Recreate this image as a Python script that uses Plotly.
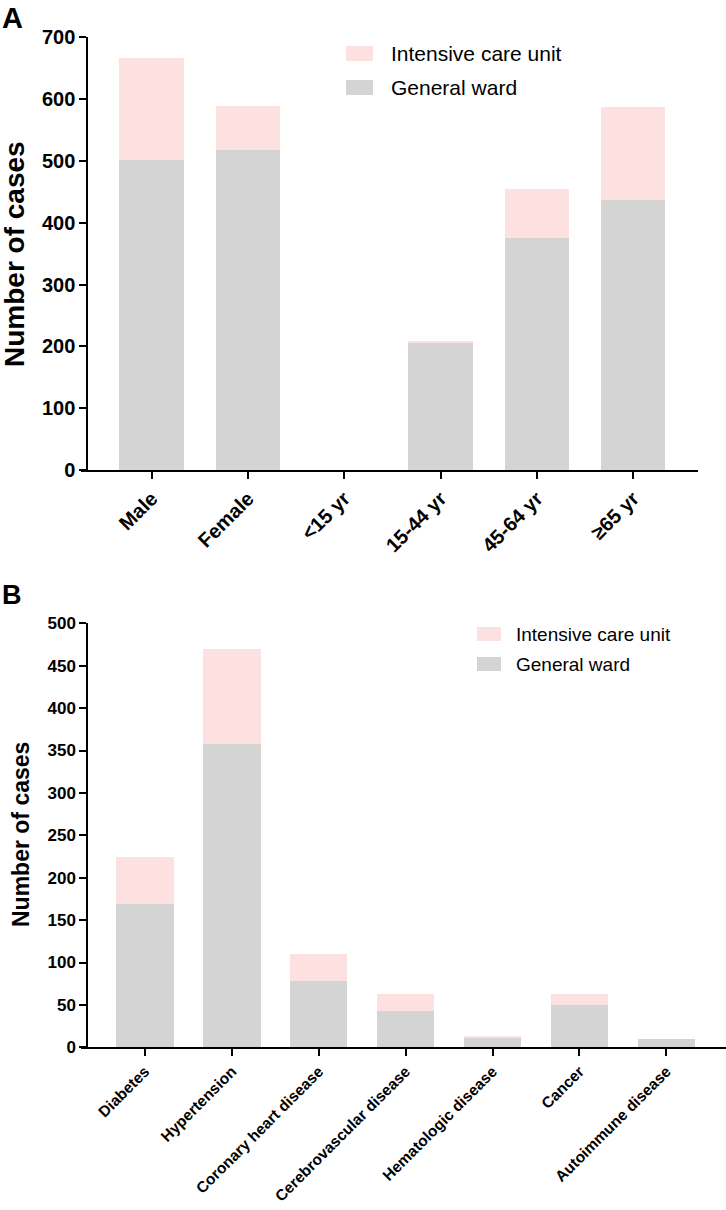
import plotly.graph_objects as go

# ---------------- data ----------------
categories_a = ["Male", "Female", "<15 yr", "15-44 yr", "45-64 yr", "≥65 yr"]
general_ward_a = [502, 517, 0, 205, 375, 436]
icu_a = [164, 72, 0, 4, 79, 152]

categories_b = ["Diabetes", "Hypertension", "Coronary heart disease",
                "Cerebrovascular disease", "Hematologic disease", "Cancer",
                "Autoimmune disease"]
general_ward_b = [169, 358, 78, 43, 11, 50, 10]
icu_b = [55, 112, 32, 20, 2, 13, 0]

ticks_a = [0, 100, 200, 300, 400, 500, 600, 700]
ticks_b = [0, 50, 100, 150, 200, 250, 300, 350, 400, 450, 500]

series_names = ["General ward", "Intensive care unit"]

# ---------------- style ----------------
W, H = 726, 1210
FONT = "Liberation Sans, Arial, Helvetica, sans-serif"
GRAY = "#d4d4d4"
PINK = "#fde0e0"


def px(x):
    return x / W


def py(y):
    return 1 - y / H


fig = go.Figure()

fig.add_trace(go.Bar(x=categories_a, y=general_ward_a, name=series_names[0],
                     marker=dict(color=GRAY, line=dict(width=0)), width=0.67,
                     xaxis="x", yaxis="y", showlegend=False))
fig.add_trace(go.Bar(x=categories_a, y=icu_a, name=series_names[1],
                     marker=dict(color=PINK, line=dict(width=0)), width=0.67,
                     xaxis="x", yaxis="y", showlegend=False))
fig.add_trace(go.Bar(x=categories_b, y=general_ward_b, name=series_names[0],
                     marker=dict(color=GRAY, line=dict(width=0)), width=0.66,
                     xaxis="x2", yaxis="y2", showlegend=False))
fig.add_trace(go.Bar(x=categories_b, y=icu_b, name=series_names[1],
                     marker=dict(color=PINK, line=dict(width=0)), width=0.66,
                     xaxis="x2", yaxis="y2", showlegend=False))

axis_common = dict(showgrid=False, zeroline=False, showline=True,
                   linecolor="black", linewidth=2, ticks="outside",
                   ticklen=7, tickwidth=2, tickcolor="black")

fig.update_layout(
    template="none",
    width=W, height=H,
    margin=dict(l=0, r=0, t=0, b=0),
    paper_bgcolor="white", plot_bgcolor="white",
    barmode="stack",
    font=dict(family=FONT, color="black"),
    showlegend=False,
    xaxis=dict(**axis_common, domain=[px(80.7), px(698.3)], anchor="y",
               type="category", range=[-0.737, 5.676], tickangle=-45,
               tickfont=dict(size=20, family=FONT, weight="bold"),
               automargin=False),
    yaxis=dict(**axis_common, domain=[py(470), py(37.3)], anchor="free",
               position=px(87.3), range=[0, 700], tickvals=ticks_a,
               tickfont=dict(size=20, family=FONT, weight="bold"),
               automargin=False),
    xaxis2=dict(**axis_common, domain=[px(80.7), 1.0], anchor="y2",
                type="category", range=[-0.74, 6.686], tickangle=-45,
                tickfont=dict(size=15.5, family=FONT, weight="bold"),
                automargin=False),
    yaxis2=dict(**axis_common, domain=[py(1047.3), py(623.3)], anchor="free",
                position=px(87.3), range=[0, 500], tickvals=ticks_b,
                tickfont=dict(size=17, family=FONT, weight="bold"),
                automargin=False),
)

shapes = []
annotations = []

# custom legends (swatch + label)
legend_specs = [
    # (x0, x1, y0_icu, y1_icu, y0_gw, y1_gw, text_x, fontsize)
    (346, 373, 46, 61, 80, 95, 389, 21),
    (477, 501, 627, 641, 657, 671, 514, 19),
]
for (x0, x1, ya0, ya1, yb0, yb1, tx, fs) in legend_specs:
    shapes.append(dict(type="rect", xref="paper", yref="paper",
                       x0=px(x0), x1=px(x1), y0=py(ya1), y1=py(ya0),
                       fillcolor=PINK, line=dict(width=0)))
    shapes.append(dict(type="rect", xref="paper", yref="paper",
                       x0=px(x0), x1=px(x1), y0=py(yb1), y1=py(yb0),
                       fillcolor=GRAY, line=dict(width=0)))
    annotations.append(dict(text=series_names[1], xref="paper", yref="paper",
                            x=px(tx), y=py((ya0 + ya1) / 2), xanchor="left",
                            yanchor="middle", showarrow=False,
                            font=dict(size=fs, family=FONT, color="black")))
    annotations.append(dict(text=series_names[0], xref="paper", yref="paper",
                            x=px(tx), y=py((yb0 + yb1) / 2), xanchor="left",
                            yanchor="middle", showarrow=False,
                            font=dict(size=fs, family=FONT, color="black")))

# panel letters
annotations.append(dict(text="<b>A</b>", xref="paper", yref="paper",
                        x=0, y=py(0), xanchor="left", yanchor="top",
                        showarrow=False, font=dict(size=29, family=FONT)))
annotations.append(dict(text="<b>B</b>", xref="paper", yref="paper",
                        x=0, y=py(578), xanchor="left", yanchor="top",
                        showarrow=False, font=dict(size=27, family=FONT)))

# y-axis titles
annotations.append(dict(text="<b>Number of cases</b>", xref="paper", yref="paper",
                        x=px(14), y=py(254), xanchor="center", yanchor="middle",
                        textangle=-90, showarrow=False,
                        font=dict(size=28, family=FONT)))
annotations.append(dict(text="<b>Number of cases</b>", xref="paper", yref="paper",
                        x=px(21), y=py(835), xanchor="center", yanchor="middle",
                        textangle=-90, showarrow=False,
                        font=dict(size=23, family=FONT)))

fig.update_layout(shapes=shapes, annotations=annotations)

fig.write_html(
    "out.html",
    config={"displayModeBar": False},
    post_script="document.body.style.margin='0px';"
                "document.documentElement.style.overflow='hidden';",
)
